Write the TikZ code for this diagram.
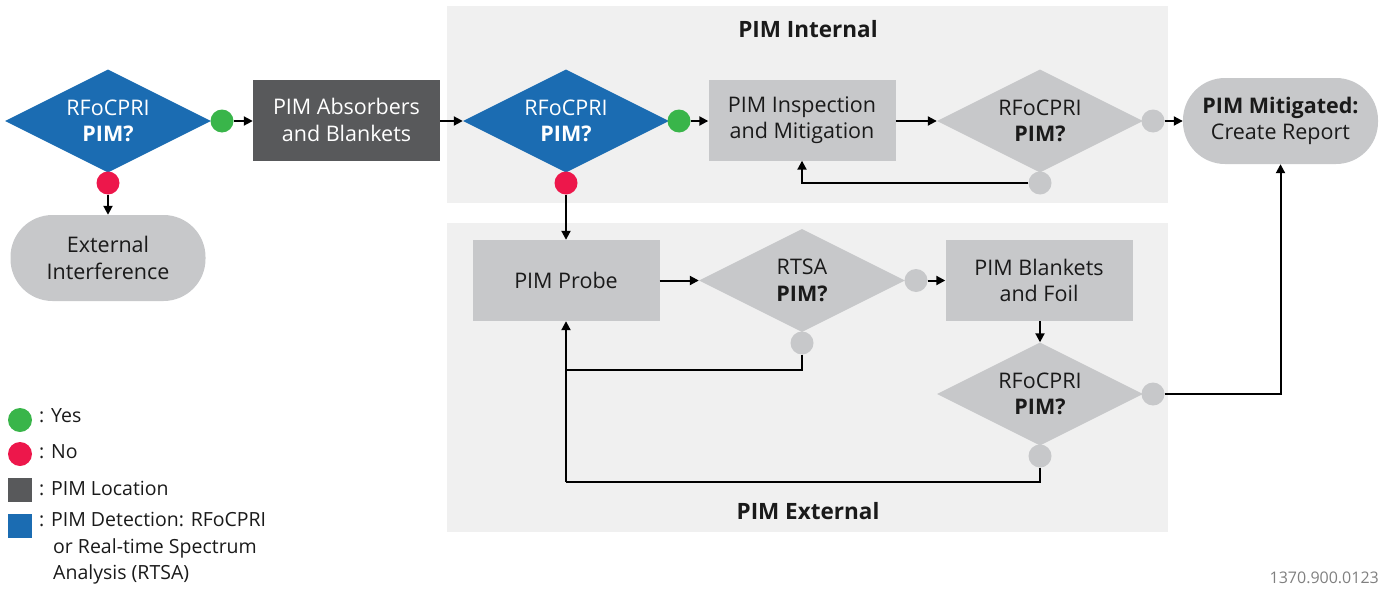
\documentclass[tikz,border=0pt]{standalone}
\usepackage{fontspec}
\setmainfont{Open Sans}
\usetikzlibrary{shapes.geometric,arrows.meta,calc}
\definecolor{pblue}{RGB}{27,108,178}
\definecolor{pgreen}{RGB}{57,181,74}
\definecolor{pred}{RGB}{237,23,75}
\definecolor{pdark}{RGB}{88,89,91}
\definecolor{plight}{RGB}{199,200,202}
\definecolor{pbg}{RGB}{240,240,240}
\definecolor{ptext}{RGB}{26,26,26}
\begin{document}
\begin{tikzpicture}[x=1pt,y=-1pt,
  txt/.style={font=\fontsize{21.5}{26.5}\selectfont, align=center, text=ptext},
  bgbox/.style={fill=pbg, inner sep=0pt, minimum width=721pt},
  diam/.style={diamond, aspect=2, inner sep=0pt, minimum width=206pt, minimum height=103pt, txt},
  bluediam/.style={diam, fill=pblue, text=white},
  graydiam/.style={diam, fill=plight},
  stepbox/.style={rectangle, inner sep=0pt, minimum width=187pt, minimum height=81pt, txt},
  darkbox/.style={stepbox, fill=pdark, text=white},
  lightbox/.style={stepbox, fill=plight},
  term/.style={rectangle, rounded corners=42pt, fill=plight, inner sep=0pt, minimum width=195pt, minimum height=86pt, txt},
  dot/.style={circle, inner sep=0pt, minimum size=23pt},
  ydot/.style={dot, fill=pgreen},
  ndot/.style={dot, fill=pred},
  gdot/.style={dot, fill=plight},
  arr/.style={line width=2pt, -{Triangle[length=9pt,width=9pt]}},
  ln/.style={line width=2pt},
  legtxt/.style={font=\fontsize{19.5}{26.5}\selectfont, text=ptext, align=left, inner sep=0pt}
]
\useasboundingbox (0,0) rectangle (1386,594);
% section backgrounds
\node[bgbox, minimum height=197pt] (intbg) at (807.5,104.5) {};
\node[bgbox, minimum height=309pt] (extbg) at (807.5,377.5) {};
\node[txt, font=\fontsize{22.5}{26}\selectfont\bfseries] (inttitle) at (808,29) {PIM Internal};
\node[txt, font=\fontsize{22.5}{26}\selectfont\bfseries] (exttitle) at (808,511) {PIM External};

% top row
\node[bluediam] (d1) at (108,121) {RFoCPRI\\\textbf{PIM?}};
\node[ydot] (y1) at (222,121) {};
\node[darkbox] (abs) at (346.5,120) {PIM Absorbers\\and Blankets};
\node[bluediam] (d2) at (566,121) {RFoCPRI\\\textbf{PIM?}};
\node[ydot] (y2) at (679,121) {};
\node[lightbox] (insp) at (802,120) {PIM Inspection\\and Mitigation};
\node[graydiam] (d3) at (1040,121) {RFoCPRI\\\textbf{PIM?}};
\node[gdot] (g3r) at (1153,121) {};
\node[gdot] (g3b) at (1040,183) {};
\node[term] (mit) at (1280.5,121) {\textbf{PIM Mitigated:}\\Create Report};

\node[ndot] (n1) at (108,183) {};
\node[term] (ext) at (108,258) {External\\Interference};
\node[ndot] (n2) at (566,183) {};

% external section
\node[lightbox] (probe) at (566,280.5) {PIM Probe};
\node[graydiam] (rtsa) at (802,280.5) {RTSA\\\textbf{PIM?}};
\node[gdot] (grr) at (916,280.5) {};
\node[gdot] (grb) at (802,343) {};
\node[lightbox] (blank) at (1039,280.5) {PIM Blankets\\and Foil};
\node[graydiam] (d4) at (1040,394) {RFoCPRI\\\textbf{PIM?}};
\node[gdot] (g4r) at (1153,394) {};
\node[gdot] (g4b) at (1040,456) {};

\coordinate (j1) at (566,370);
\coordinate (j2) at (566,482);

% connectors
\draw[arr] (y1) -- (y1 -| abs.west);
\draw[arr] (abs.east |- d2) -- (d2.west);
\draw[arr] (y2) -- (y2 -| insp.west);
\draw[arr] (insp.east |- d3) -- (d3.west);
\draw[arr] (g3r) -- (mit.west);
\draw[arr] (g3b.west) -| (insp.south);
\draw[arr] (n1) -- (ext.north);
\draw[arr] (n2) -- (probe.north);
\draw[arr] (probe.east) -- (rtsa.west);
\draw[arr] (grr) -- (blank.west);
\draw[arr] (blank.south -| d4) -- (d4.north);
\draw[ln] (grb.south) |- (j1);
\draw[ln] (g4b.south) |- (j2);
\draw[arr] (j2) -- (probe.south);
\draw[arr] (g4r.east) -| (mit.south);

% legend
\node[dot, fill=pgreen, minimum size=24pt] (lg) at (20,420) {};
\node[legtxt, anchor=west] (lgt) at (39,416) {: Yes};
\node[dot, fill=pred, minimum size=24pt] (lr) at (20,454) {};
\node[legtxt, anchor=west] (lrt) at (39,452) {: No};
\node[rectangle, fill=pdark, inner sep=0pt, minimum size=24pt] (ld) at (20,490) {};
\node[legtxt, anchor=west] (ldt) at (39,488) {: PIM Location};
\node[rectangle, fill=pblue, inner sep=0pt, minimum size=24pt] (lb) at (20,526) {};
\node[legtxt, anchor=north west] (lbt) at (39,512) {: PIM Detection: RFoCPRI\\\hspace*{14pt}or Real-time Spectrum\\\hspace*{14pt}Analysis (RTSA)};

\node[font=\fontsize{16}{18}\selectfont, text={rgb,255:red,128;green,128;blue,128}, anchor=east, inner sep=0pt] (code) at (1379,578) {1370.900.0123};
\end{tikzpicture}
\end{document}
